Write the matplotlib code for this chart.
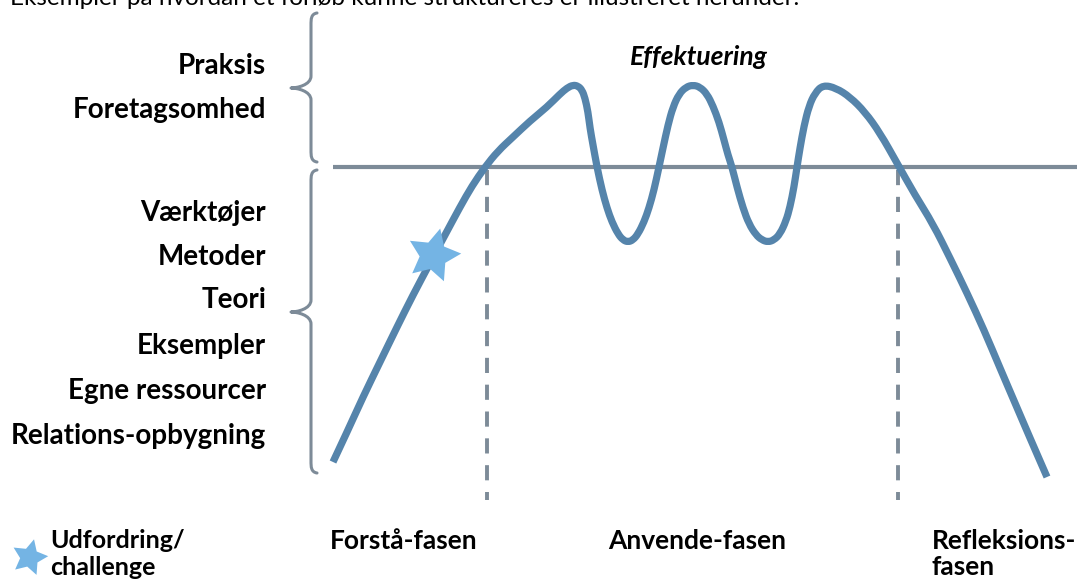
import matplotlib
matplotlib.use("Agg")
import matplotlib.pyplot as plt
from matplotlib.path import Path
from matplotlib.patches import PathPatch

# ---------------- data (pixel space) ----------------
curve_x = [333, 348, 363, 380, 397, 413, 430, 445, 460, 472,
           485, 498, 513, 530, 547, 560, 567, 573, 578, 582,
           585, 588, 590, 593, 597, 602, 607, 612, 618, 623,
           628, 633, 638, 644, 649, 654, 659, 663, 668, 673,
           679, 686, 693, 700, 707, 713, 719, 724, 728, 732,
           737, 743, 749, 756, 762, 768, 774, 780, 786, 790,
           794, 797, 800, 804, 809, 815, 823, 836, 850, 865,
           880, 897, 915, 933, 950, 967, 984, 1000, 1015, 1030,
           1047]
curve_y = [462, 430, 397, 362, 327, 295, 263, 235, 207, 186,
           167, 151, 137, 121, 107, 94, 88, 85, 86, 90,
           98, 112, 128, 145, 167, 190, 208, 222, 234, 240,
           242, 240, 234, 222, 208, 190, 167, 148, 125, 107,
           94, 87, 85, 87, 94, 106, 122, 140, 155, 167,
           187, 208, 224, 235, 240, 242, 240, 234, 221, 207,
           187, 167, 148, 126, 106, 93, 85, 88, 97, 112,
           133, 163, 195, 224, 258, 293, 330, 368, 403, 438,
           477]

threshold_y = 167
phase_bounds = [487, 898]

upper_labels = ["Praksis", "Foretagsomhed"]
upper_label_y = [66, 110]
lower_labels = ["Værktøjer", "Metoder", "Teori", "Eksempler",
                "Egne ressourcer", "Relations-opbygning"]
lower_label_y = [213, 257, 300, 346, 391, 436]

phase_labels = ["Forstå-fasen", "Anvende-fasen", "Refleksions-\nfasen"]
phase_label_x = [330, 608, 932]

challenge_xy = (433, 255)
top_caption = "Eksempler på hvordan et forløb kunne struktureres er illustreret herunder."

# ---------------- styling ----------------
CURVE = "#5584ab"
GRAY = "#7d8b98"
STAR = "#74b4e4"
FONT = ["Lato", "DejaVu Sans"]

fig = plt.figure(figsize=(10.77, 5.82), dpi=100)
ax = fig.add_axes([0, 0, 1, 1])
ax.set_xlim(0, 1077)
ax.set_ylim(582, 0)
ax.axis("off")

# threshold line and dashed phase boundaries
ax.plot([333, 1077], [threshold_y, threshold_y], color=GRAY, lw=3.0,
        solid_capstyle="butt", zorder=2)
for bx in phase_bounds:
    ax.plot([bx, bx], [threshold_y + 3, 500], color=GRAY, lw=2.8,
            linestyle=(0, (3.9, 3.0)), dash_capstyle="butt", zorder=1)

# main curve, drawn as a smooth quadratic path through the read points
pts = list(zip(curve_x, curve_y))
verts = [pts[0]]
codes = [Path.MOVETO]
for i in range(1, len(pts) - 1):
    mid = ((pts[i][0] + pts[i + 1][0]) / 2, (pts[i][1] + pts[i + 1][1]) / 2)
    verts += [pts[i], mid]
    codes += [Path.CURVE3, Path.CURVE3]
verts.append(pts[-1])
codes.append(Path.LINETO)
ax.add_patch(PathPatch(Path(verts, codes), facecolor="none", edgecolor=CURVE,
                       lw=5.2, joinstyle="round", capstyle="butt", zorder=3))

# challenge star on curve
ax.plot([challenge_xy[0]], [challenge_xy[1]], marker=(5, 1, -14),
        markersize=40, color=STAR, markeredgewidth=0, zorder=4)


def brace(x_flat, x_tip, y0, y1, ymid):
    c = 12
    bv = [
        (x_flat + 6, y0),
        (x_flat, y0 + 1), (x_flat, y0 + 6), (x_flat, y0 + c),
        (x_flat, ymid - c),
        (x_flat, ymid - 3), (x_tip + 6, ymid), (x_tip, ymid),
        (x_tip + 6, ymid), (x_flat, ymid + 3), (x_flat, ymid + c),
        (x_flat, y1 - c),
        (x_flat, y1 - 6), (x_flat, y1 - 1), (x_flat + 6, y1),
    ]
    bc = [Path.MOVETO,
          Path.CURVE4, Path.CURVE4, Path.CURVE4,
          Path.LINETO,
          Path.CURVE4, Path.CURVE4, Path.CURVE4,
          Path.CURVE4, Path.CURVE4, Path.CURVE4,
          Path.LINETO,
          Path.CURVE4, Path.CURVE4, Path.CURVE4]
    ax.add_patch(PathPatch(Path(bv, bc), facecolor="none",
                           edgecolor=GRAY, lw=2.2, capstyle="round",
                           joinstyle="round", zorder=2))


brace(311, 291, 13, 162, 88)
brace(311, 291, 170, 473, 312)

# labels
lab_kw = dict(fontsize=20, fontweight="bold", family=FONT, color="black")
for t, y in zip(upper_labels, upper_label_y):
    ax.text(266, y, t, ha="right", va="center", **lab_kw)
for t, y in zip(lower_labels, lower_label_y):
    ax.text(266, y, t, ha="right", va="center", **lab_kw)

for t, x in zip(phase_labels, phase_label_x):
    ax.text(x, 529, t, ha="left", va="top", linespacing=1.12, fontsize=19,
            fontweight="bold", family=FONT, color="black")

ax.text(699, 57, "Effektuering", ha="center", va="center", fontsize=19,
        fontweight="bold", style="italic", family=FONT, color="black")

# legend for the star
ax.plot([29], [557], marker=(5, 1, -14), markersize=27, color=STAR,
        markeredgewidth=0)
ax.text(50, 529, "Udfordring/\nchallenge", ha="left", va="top",
        linespacing=1.2, fontsize=18, fontweight="bold", family=FONT,
        color="black")

# cut-off caption at very top
ax.text(10, 5, top_caption, ha="left", va="baseline", fontsize=17.5,
        family=FONT, color="black")

fig.savefig("out.png", dpi=100)
